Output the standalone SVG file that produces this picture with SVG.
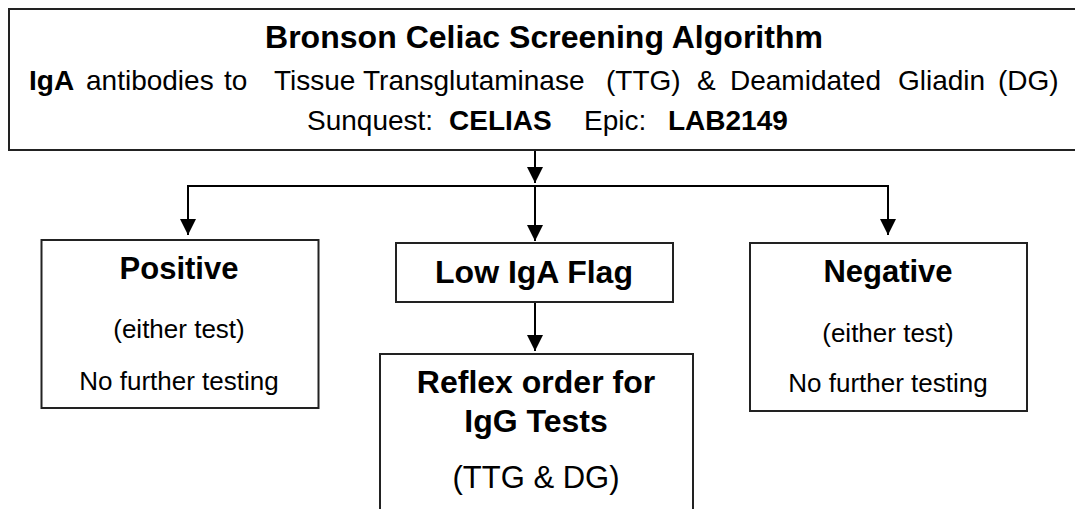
<svg xmlns="http://www.w3.org/2000/svg" width="1075" height="509" viewBox="0 0 1075 509">
<style>
  .box { fill: #ffffff; stroke: #222222; stroke-width: 2; }
  .conn { fill: none; stroke: #000000; stroke-width: 2; }
  text { font-family: "Liberation Sans", Arial, Helvetica, sans-serif; fill: #000000; }
  .b { font-weight: bold; }
  .c { text-anchor: middle; }
</style>
<defs>
  <marker id="arrow" markerUnits="userSpaceOnUse" markerWidth="18" markerHeight="16" refX="16" refY="8" orient="auto">
    <path d="M0,0 L16,8 L0,16 Z" fill="#000000"/>
  </marker>
</defs>
<rect width="1075" height="509" fill="#ffffff"/>

<g id="connectors">
  <line class="conn" x1="535" y1="150" x2="535" y2="183" marker-end="url(#arrow)"/>
  <polyline class="conn" points="188,235 188,186 888,186 888,235" marker-end="url(#arrow)"/>
  <line class="conn" x1="188" y1="220" x2="188" y2="235" marker-end="url(#arrow)"/>
  <line class="conn" x1="535" y1="186" x2="535" y2="241" marker-end="url(#arrow)"/>
  <line class="conn" x1="535" y1="302" x2="535" y2="351" marker-end="url(#arrow)"/>
</g>

<g id="header">
  <rect class="box" x="9" y="9" width="1080" height="141"/>
  <text class="b" x="265" y="48" font-size="32" textLength="558" lengthAdjust="spacing">Bronson Celiac Screening Algorithm</text>
  <text y="90" font-size="28">
    <tspan class="b" x="29">IgA</tspan>
    <tspan x="86">antibodies</tspan>
    <tspan x="224">to</tspan>
    <tspan x="274">Tissue</tspan>
    <tspan x="363">Transglutaminase</tspan>
    <tspan x="606">(TTG)</tspan>
    <tspan x="697">&amp;</tspan>
    <tspan x="730">Deamidated</tspan>
    <tspan x="898">Gliadin</tspan>
    <tspan x="998">(DG)</tspan>
  </text>
  <text y="130" font-size="28">
    <tspan x="307">Sunquest:</tspan>
    <tspan class="b" x="449">CELIAS</tspan>
    <tspan x="584">Epic:</tspan>
    <tspan class="b" x="668">LAB2149</tspan>
  </text>
</g>

<g id="positive">
  <rect class="box" x="41.5" y="240" width="277" height="168"/>
  <text class="b c" x="179" y="279" font-size="31">Positive</text>
  <text class="c" x="179" y="338" font-size="26">(either test)</text>
  <text class="c" x="179" y="390" font-size="26">No further testing</text>
</g>

<g id="low-iga">
  <rect class="box" x="396" y="243" width="277" height="59"/>
  <text class="b c" x="534" y="283" font-size="32">Low IgA Flag</text>
</g>

<g id="negative">
  <rect class="box" x="750" y="243" width="277" height="168"/>
  <text class="b c" x="888" y="282" font-size="31">Negative</text>
  <text class="c" x="888" y="342" font-size="26">(either test)</text>
  <text class="c" x="888" y="392" font-size="26">No further testing</text>
</g>

<g id="reflex">
  <rect class="box" x="380" y="354" width="313" height="170"/>
  <text class="b c" x="536" y="393" font-size="32">Reflex order for</text>
  <text class="b c" x="536" y="432" font-size="32">IgG Tests</text>
  <text class="c" x="536" y="488" font-size="31">(TTG &amp; DG)</text>
</g>
</svg>
